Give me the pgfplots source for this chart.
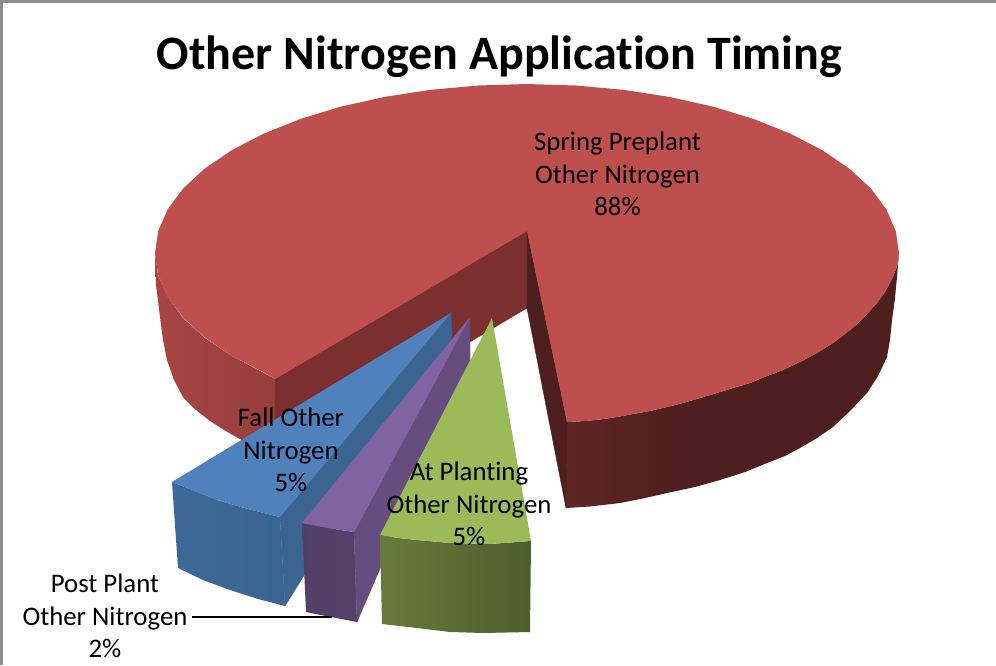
\documentclass[border=0pt]{standalone}
\usepackage{fontspec}
\setmainfont[Ligatures=NoCommon]{Carlito}
\usepackage{pgfplots}
\pgfplotsset{compat=1.18}
\definecolor{RedTop}{HTML}{BE4F4C}
\definecolor{RedCutL}{HTML}{7B302F}
\definecolor{RedDark}{HTML}{4D1F1E}
\definecolor{BlueTop}{HTML}{4F81BD}
\definecolor{BlueCut}{HTML}{3B6490}
\definecolor{PurpTop}{HTML}{8064A2}
\definecolor{PurpCut}{HTML}{654E7E}
\definecolor{GreenTop}{HTML}{9BBB59}
\pgfdeclarehorizontalshading{redleft}{100bp}{color(0bp)=(RedTop!87!black); color(25bp)=(RedTop!88!black); color(75bp)=(RedTop!79!black); color(100bp)=(RedTop!79!black)}
\pgfdeclarehorizontalshading{redright}{100bp}{color(0bp)=(RedDark!85!RedTop); color(25bp)=(RedDark!85!RedTop); color(42bp)=(RedDark); color(100bp)=(RedDark)}
\pgfdeclarehorizontalshading{blueside}{100bp}{color(0bp)=(BlueCut!85!BlueTop); color(25bp)=(BlueCut!85!BlueTop); color(75bp)=(BlueCut); color(100bp)=(BlueCut)}
\pgfdeclarehorizontalshading{purpside}{100bp}{color(0bp)=(PurpCut!80!black); color(100bp)=(PurpCut!85!black)}
\pgfdeclarehorizontalshading{greenside}{100bp}{color(0bp)=(GreenTop!62!black); color(25bp)=(GreenTop!66!black); color(75bp)=(GreenTop!50!black); color(100bp)=(GreenTop!50!black)}
\tikzset{lab/.style={font=\fontsize{26.8}{32.5}\selectfont, align=center, anchor=center, inner sep=0pt}}
\begin{document}
\begin{tikzpicture}
\begin{axis}[
    width=996pt, height=665pt, scale only axis,
    xmin=0, xmax=996, ymin=0, ymax=665,
    y dir=reverse,
    axis lines=none,
    clip=true,
]
% frame, left and top only
\addplot[draw=black!45, line width=6pt] coordinates {(0,665) (0,0) (996,0)};

% red slice: 88%
\addplot[draw=none, shade, shading=redleft] coordinates {
    (155,253) (158,275) (168,297) (183,318) (205,338) (232,356) (264,373) (275,379)
    (275,458) (238,438) (224,430) (210,421) (196,410) (183,397) (174,380) (167,360)
    (163,340) (160,317) (156,285)
} --cycle;
\addplot[draw=RedCutL, line width=0.4pt, fill=RedCutL] coordinates {(527,231) (275,379) (275,458) (527,308)} --cycle;
\addplot[draw=none, shade, shading=redright] coordinates {
    (567,422) (585,421) (600,419.5) (617,417) (633,414) (650,411) (667,407) (683,403)
    (700,398) (717,393) (733,388) (750,383) (767,376) (783,370) (800,362) (817,353)
    (833,343) (845,334) (856,325) (867,314) (877,303) (885,292) (892,279) (897,267) (899,253)
    (897,277) (895,298) (892,320) (890,340) (887,357) (878,376) (867,393) (850,411)
    (833,427) (817,438) (800,448) (785,456) (767,463) (745,472) (720,480) (695,487)
    (667,493) (645,498) (620,503) (590,506.5) (566,508)
} --cycle;
\addplot[draw=RedDark, line width=0.4pt, fill=RedDark] coordinates {(527,231) (567,422) (566,508) (527,308)} --cycle;
\addplot[draw=none, fill=RedTop] coordinates {
    (527,231) (567,422) (585,421) (600,419.5) (617,417) (633,414) (650,411) (667,407) (683,403)
    (700,398) (717,393) (733,388) (750,383) (767,376) (783,370) (800,362) (817,353)
    (833,343) (845,334) (856,325) (867,314) (877,303) (885,292) (892,279) (897,267) (899,253)
    (895.8,231) (886.3,209.3) (870.7,188.3) (849.2,168.5) (822.1,150.1) (790,133.5)
    (753.5,118.9) (713,106.6) (669.4,96.9) (623.3,89.8) (575.5,85.5) (527,84)
    (478.5,85.5) (430.7,89.8) (384.6,96.9) (341,106.6) (300.5,118.9) (264,133.5)
    (231.9,150.1) (204.8,168.5) (183.3,188.3) (167.7,209.3) (158.2,231) (155,253)
    (158.2,275) (167.7,296.7) (183.3,317.7) (204.8,337.5) (231.9,355.9) (264,372.5) (275,379)
} --cycle;

% blue slice: 5%
\addplot[draw=none, shade, shading=blueside] coordinates {
    (172,482) (195,491) (217,500) (248,509) (280,517) (285,606) (258,599) (230,590) (203,580) (178,568)
} --cycle;
\addplot[draw=BlueCut, line width=0.4pt, fill=BlueCut] coordinates {(451,313) (280,517) (285,606) (452,337)} --cycle;
\addplot[draw=none, fill=BlueTop] coordinates {
    (451,313) (172,482) (195,491) (217,500) (248,509) (280,517)
} --cycle;

% purple slice: 2%
\addplot[draw=none, shade, shading=purpside] coordinates {
    (302,523) (328,528) (354,532) (357,622) (331,617) (306,612)
} --cycle;
\addplot[draw=PurpCut, line width=0.4pt, fill=PurpCut] coordinates {(470,317) (354,532) (357,622) (470,360)} --cycle;
\addplot[draw=none, fill=PurpTop] coordinates {(470,317) (302,523) (328,528) (354,532)} --cycle;

% green slice: 5%
\addplot[draw=none, shade, shading=greenside] coordinates {
    (380,535) (398,538) (417,540) (450,543) (490,544) (531,541)
    (530,632) (483,633) (450,632) (417,628) (382,624)
} --cycle;
\addplot[draw=none, fill=GreenTop] coordinates {
    (492,318) (380,535) (398,538) (417,540) (450,543) (490,544) (531,541)
} --cycle;

% leader line
\addplot[draw=black, line width=2.6pt] coordinates {(192,617) (332,617)};

\node[font=\fontsize{48}{50}\selectfont\bfseries, anchor=base] at (axis cs:499.5,69) {Other Nitrogen Application Timing};
\node[lab] at (axis cs:617.5,174) {Spring Preplant\\Other Nitrogen\\88\%};
\node[lab] at (axis cs:291,450) {Fall Other\\Nitrogen\\5\%};
\node[lab] at (axis cs:469,504) {At Planting\\Other Nitrogen\\5\%};
\node[lab] at (axis cs:105,616) {Post Plant\\Other Nitrogen\\2\%};
\end{axis}
\end{tikzpicture}
\end{document}
